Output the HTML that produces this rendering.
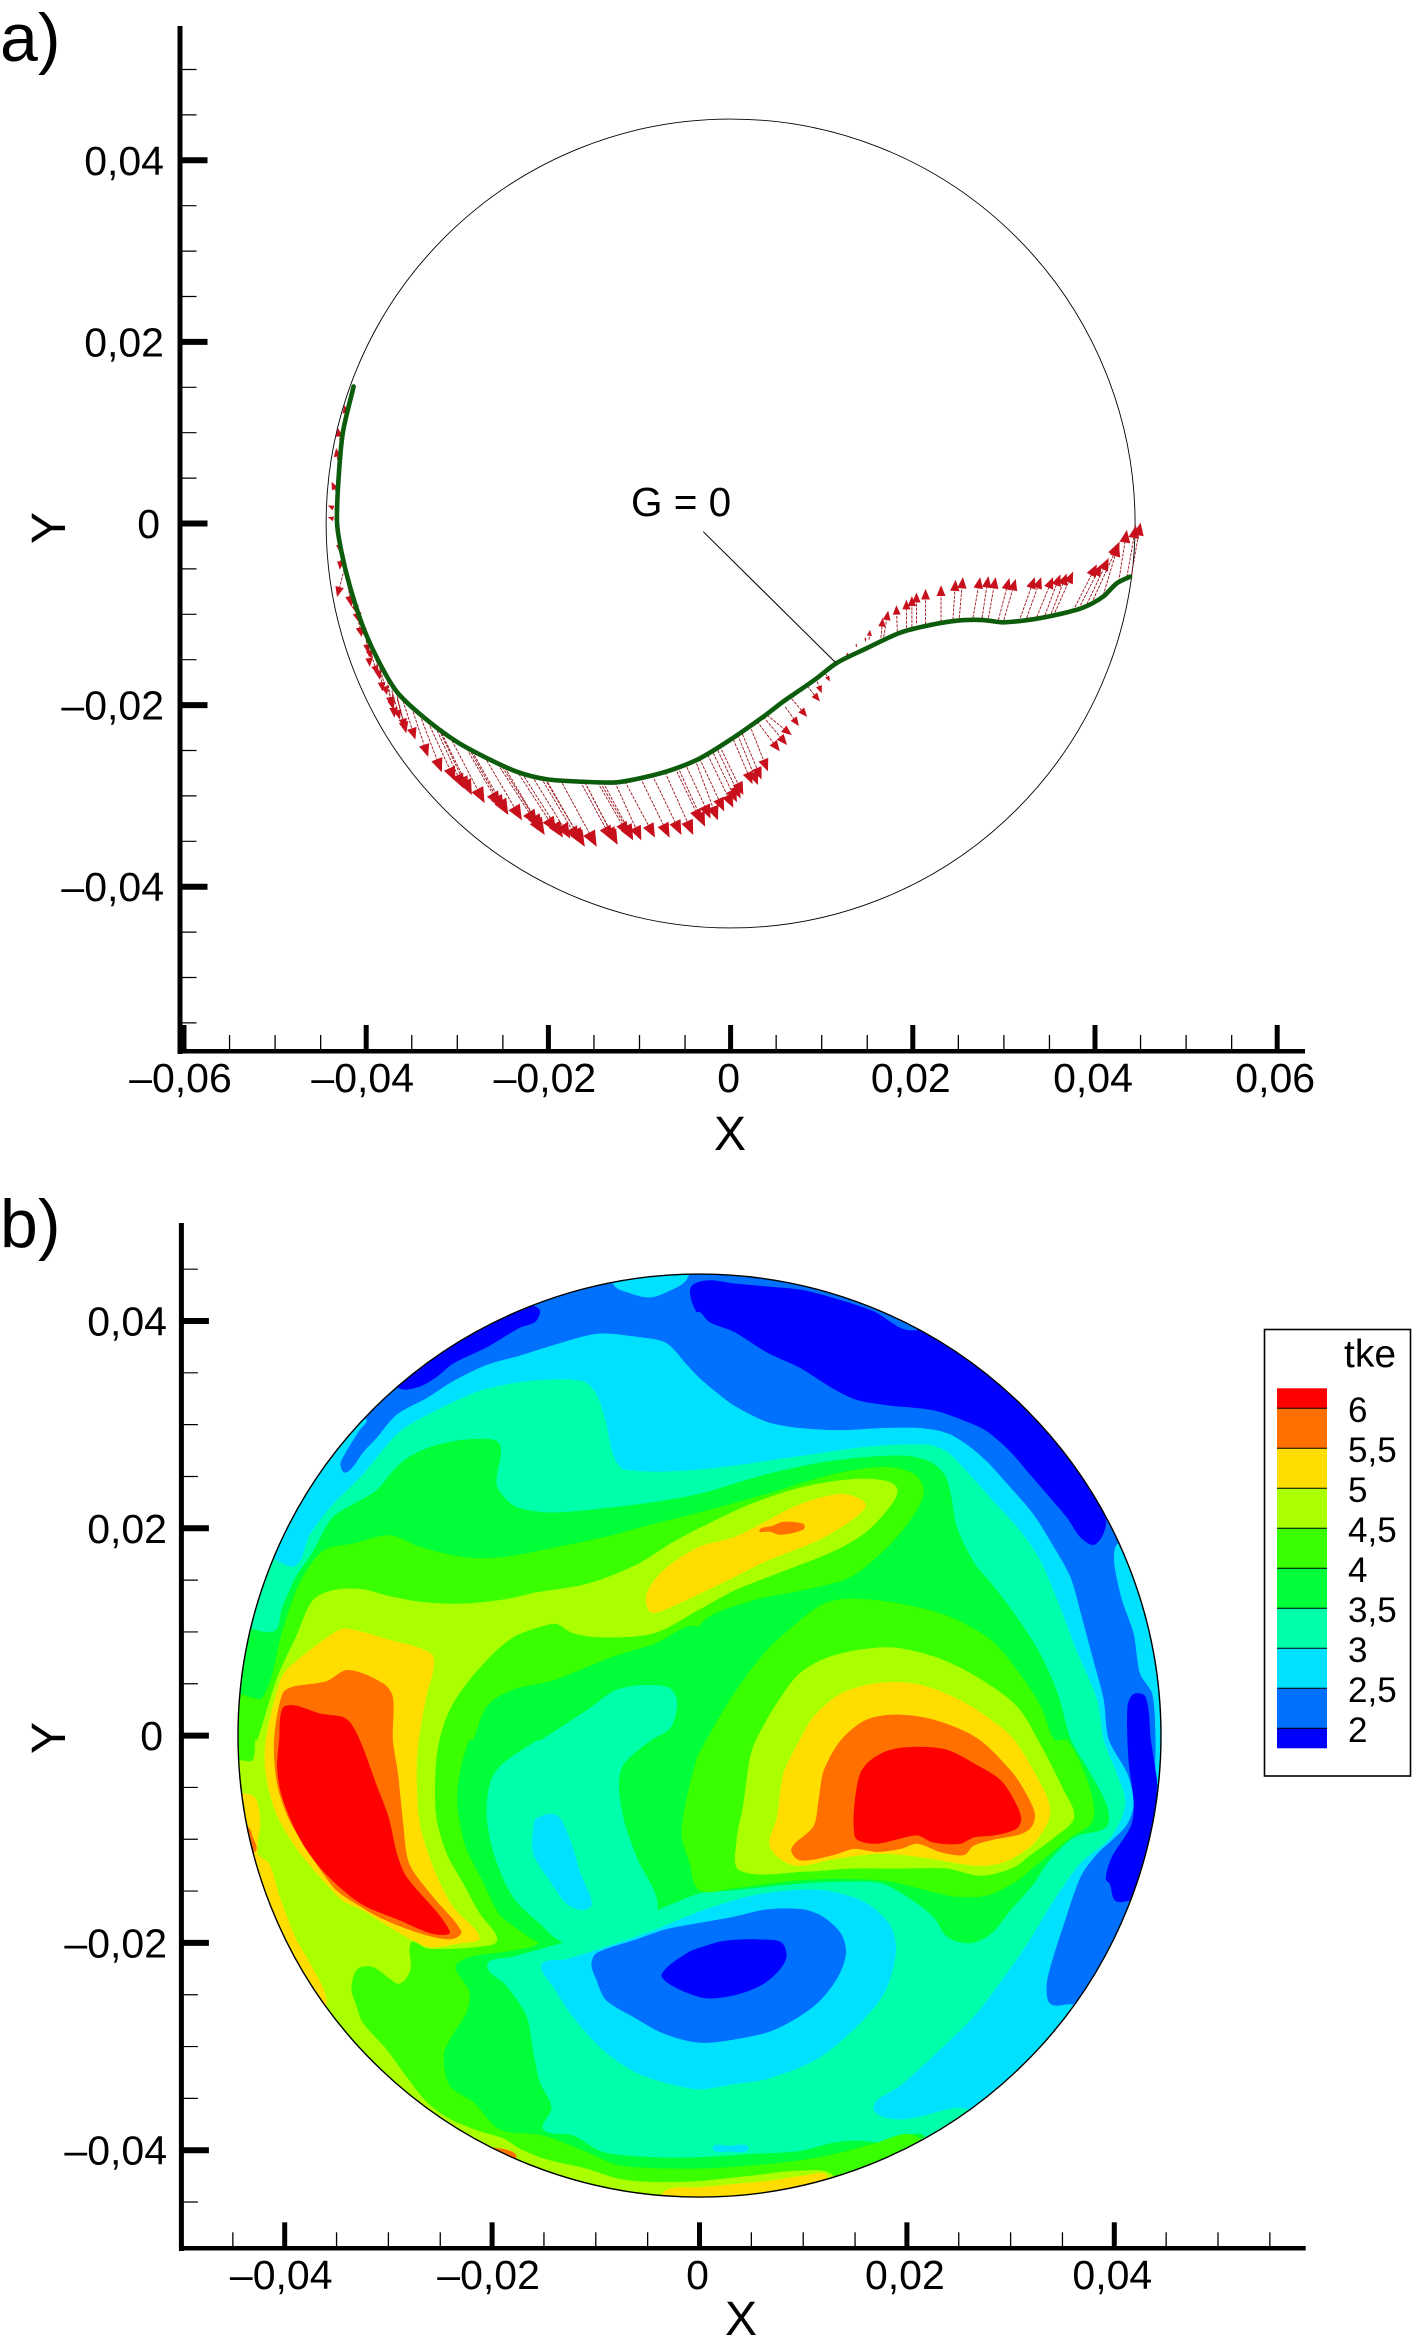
<!DOCTYPE html>
<html lang="en">
<head>
<meta charset="utf-8">
<title>Panels a and b: G = 0 curve with vectors, tke contours</title>
<style>
html,body{margin:0;padding:0;background:#fff;}
svg{display:block;}
text{font-family:"Liberation Sans",Arial,sans-serif;fill:#000;}
</style>
</head>
<body>
<svg id="chart" xmlns="http://www.w3.org/2000/svg" width="1423" height="2347" viewBox="0 0 1423 2347">
<defs><clipPath id="disk-clip"><circle id="disk-clip-circle" cx="699.5" cy="1735.6" r="461"/></clipPath></defs>
<rect x="0" y="0" width="1423" height="2347" fill="#fff"/>
<text x="0" y="61" font-size="68">a)</text>
<text x="0" y="1247" font-size="68">b)</text>
<text x="730" y="1150" font-size="48" text-anchor="middle">X</text>
<text transform="translate(65 528) rotate(-90)" font-size="48" text-anchor="middle">Y</text>
<text x="741" y="2335" font-size="48" text-anchor="middle">X</text>
<text transform="translate(65 1738) rotate(-90)" font-size="48" text-anchor="middle">Y</text>
<text x="631" y="516" font-size="40.5">G = 0</text>
<g id="panel-a"></g>
<g id="panel-b-fill" clip-path="url(#disk-clip)"></g>
<g id="panel-b"></g>
<g id="legend"></g>
</svg>
<script>
/* ---------- Panel a data (curve and vectors in units of 1e-3) ---------- */
const xTicksA = [-0.06,-0.04,-0.02,0,0.02,0.04,0.06];
const xTickLabelsA = ['–0,06','–0,04','–0,02','0','0,02','0,04','0,06'];
const yTicksA = [-0.04,-0.02,0,0.02,0.04];
const yTickLabelsA = ['–0,04','–0,02','0','0,02','0,04'];
const xMinorA = [-0.055,-0.05,-0.045,-0.035,-0.03,-0.025,-0.015,-0.01,-0.005,0.005,0.01,0.015,0.025,0.03,0.035,0.045,0.05,0.055];
const yMinorA = [-0.055,-0.05,-0.045,-0.035,-0.03,-0.025,-0.015,-0.01,-0.005,0.005,0.01,0.015,0.025,0.03,0.035,0.045,0.05];
const circleRadiusA = 44.4;
const leaderX = [-3.0,11.46];
const leaderY = [-0.9,-15.25];
const greenX = [-41.38,-42.55,-43.03,-43.2,-42.69,-41.78,-40.35,-38.71,-36.65,-33.76,-30.07,-26.77,-23.48,-20.19,-16.17,-12.5,-9.21,-6.29,-3.36,-0.07,3.59,5.75,7.62,9.45,11.65,14.94,18.6,21.53,24.82,27.7,29.9,33.19,36.16,38.68,40.88,42.38,43.84];
const greenY = [15.09,10.08,5.01,0.05,-3.25,-6.96,-11.37,-15.03,-18.52,-21.28,-24.03,-25.83,-27.33,-28.17,-28.44,-28.5,-27.89,-27.07,-25.86,-23.84,-21.28,-19.63,-18.34,-17.05,-15.36,-13.74,-12.03,-11.26,-10.7,-10.63,-10.88,-10.55,-9.97,-9.27,-8.06,-6.59,-5.86];
const tailX = [-42.1,-42.8,-43.0,-43.1,-43.2,-43.2,-43.1,-43.0,-42.7,-42.3,-42.3,-41.7,-41.1,-40.1,-39.8,-39.0,-38.5,-37.7,-37.2,-36.7,-36.1,-35.0,-34.1,-33.2,-31.9,-30.8,-28.6,-27.0,-25.3,-22.9,-20.4,-18.7,-16.0,-14.3,-12.7,-11.6,-9.9,-8.6,-7.2,-5.8,-3.9,-2.5,-1.2,0.8,2.1,2.9,3.6,4.0,6.0,6.7,8.4,9.5,10.4,12.7,13.8,14.8,15.2,16.5,16.8,18.3,19.3,19.9,20.4,21.4,23.1,24.4,25.1,26.6,27.6,28.3,29.4,30.0,31.8,32.5,33.6,34.5,35.2,35.6,37.8,38.4,39.1,39.8,40.9,42.6,43.5,44.0,-32.4,-32,-29.2,-28.7,-25.8,-25,-23.5,-21.8,-20.8,-20.3,-16.5,-16,-14.6,-14,-6.1,-5,-3.4,-1.9,-1.4,0.3,1.3,-41.5,-40.7,-40,-39.4,-38.3,-37.7,-37.1,-36.6];
const tailY = [11.4,8.6,6.1,3.1,1.5,0.4,0.2,-1.8,-3.1,-4.6,-5.1,-7.3,-9.5,-11.9,-13.4,-14.5,-15.8,-16.9,-17.9,-18.6,-19.1,-20.3,-21.1,-21.9,-22.7,-23.5,-24.7,-25.7,-26.4,-27.5,-28.1,-28.2,-28.5,-28.5,-28.5,-28.4,-28.0,-27.7,-27.4,-26.8,-26.0,-25.5,-24.5,-23.3,-22.2,-21.8,-21.3,-21.1,-20.2,-19.3,-17.9,-17.4,-16.5,-14.7,-13.6,-13.0,-12.8,-12.6,-12.5,-11.9,-11.5,-11.4,-11.0,-11.1,-10.8,-10.6,-10.4,-10.4,-10.4,-10.4,-10.6,-10.6,-10.4,-10.4,-10.3,-10.1,-9.9,-9.8,-9.2,-9.0,-8.9,-8.4,-7.9,-6.4,-5.9,-5.7,-22.4,-22.7,-24.4,-24.8,-26.1,-26.5,-27.2,-27.8,-28,-28.1,-28.4,-28.5,-28.5,-28.5,-26.9,-26.4,-25.9,-25.3,-25,-23.8,-23.2,-7.8,-10.4,-12.9,-14.5,-16.6,-17.8,-18.7,-19.3];
const tipX = [-42.4,-43.1,-43.3,-43.8,-44.2,-44.2,-43.2,-42.9,-42.9,-43.2,-41.6,-40.7,-40.5,-39.8,-39.6,-38.5,-38.2,-37.2,-36.9,-35.6,-34.6,-33.2,-31.7,-30.2,-28.4,-27.0,-24.4,-22.9,-20.4,-18.4,-16.0,-14.7,-12.4,-10.7,-9.8,-8.3,-6.7,-5.4,-4.1,-2.8,-1.4,0.3,1.4,3.0,4.1,5.4,6.2,6.7,7.5,8.4,9.8,10.0,10.9,12.9,13.8,14.8,15.3,16.7,17.3,18.2,19.3,19.9,20.4,21.4,23.1,24.7,25.5,27.4,28.3,29.1,30.6,31.3,33.4,34.1,35.4,36.2,36.9,37.6,40.2,40.7,41.5,42.7,42.6,43.5,44.5,45.0,-29.3,-28.8,-25.3,-24.9,-21.2,-20.7,-19.1,-17.6,-16.6,-16.2,-13,-12.6,-11.2,-10.7,-3.2,-2.2,-0.7,0.7,1.1,2.4,3.4,-41,-40.1,-39.4,-38.8,-37.7,-37,-36.3,-35.7];
const tipY = [13.05,10.5,8.3,4.6,2.0,0.7,-0.7,-3.2,-5.1,-8.1,-9.2,-11.0,-12.5,-14.3,-15.8,-17.2,-18.5,-20.2,-21.4,-23.1,-23.8,-25.7,-27.4,-28.4,-29.9,-30.8,-32.1,-32.7,-34.3,-34.6,-35.6,-35.6,-35.4,-34.9,-34.9,-34.6,-34.6,-34.3,-34.3,-33.4,-32.7,-31.3,-29.9,-28.8,-27.3,-25.1,-24.4,-23.3,-22.3,-21.3,-19.6,-18.7,-17.4,-14.2,-13.2,-12.5,-11.7,-10.4,-9.6,-9.0,-8.4,-8.0,-7.6,-7.2,-6.8,-6.2,-5.9,-5.9,-5.8,-5.9,-6.0,-6.1,-5.9,-5.9,-5.9,-5.6,-5.5,-5.3,-4.5,-4.5,-3.8,-2.0,-2.2,-0.7,-0.2,0.1,-29.2,-29.5,-31.2,-31.6,-33.3,-33.8,-34,-34.7,-35.1,-35.3,-34.9,-35.1,-34.4,-34.7,-33,-32.5,-31.7,-30.7,-30.3,-28.7,-28.2,-10,-12.5,-14.9,-16.6,-18.9,-20.5,-21.6,-22.6];

/* ---------- Panel b data ---------- */
const xTicksB = [-0.04,-0.02,0,0.02,0.04];
const xTickLabelsB = ['–0,04','–0,02','0','0,02','0,04'];
const yTicksB = [-0.04,-0.02,0,0.02,0.04];
const yTickLabelsB = ['–0,04','–0,02','0','0,02','0,04'];
const xMinorB = [-0.045,-0.035,-0.03,-0.025,-0.015,-0.01,-0.005,0.005,0.01,0.015,0.025,0.03,0.035,0.045,0.05,0.055];
const yMinorB = [-0.045,-0.035,-0.03,-0.025,-0.015,-0.01,-0.005,0.005,0.01,0.015,0.025,0.03,0.035,0.045];
const legendLevels = ['6','5,5','5','4,5','4','3,5','3','2,5','2'];
const legendColors = ['#ff0000','#ff7000','#ffdd00','#aaff00','#39ff00','#00ff39','#00ffaa','#00e1ff','#0070ff','#0000ff'];
const c2='#0000ff',c25='#0070ff',c3='#00e1ff',c35='#00ffaa',c4='#00ff39',c45='#39ff00',c5='#aaff00',c55='#ffdd00',c6='#ff7000',c7='#ff0000';

/* contour bands: [x,y, x,y, ...] in units of 1e-3 */
const band3Outer = [-41.5,17.2,-39,16.4,-37.6,19.4,-35.4,22.3,-32.5,25.2,-29.6,28.7,-28,30,-23.8,32.2,-20.5,33.5,-15.7,34.3,-11.2,34.2,-9.9,32.9,-9,30.3,-8.3,27.1,-7.2,25.7,0.05,25.7,9.7,27,16.1,27.9,22,28.1,23.9,27.4,25.8,25.5,28.4,22.6,31,19.7,32.9,16.9,34.8,12.4,36.4,8.2,38.4,3.4,39,-0.4,40.3,-3.7,41.1,-6.6,39.7,-9.8,36.8,-12.3,34.2,-15.9,31.9,-19.7,29.7,-22.9,26.5,-27.1,22.6,-30.9,19.4,-33.8,16.8,-35.9,19.4,-37,24.5,-35.9,25.8,-36,27.4,-36.7,35,-40,60,-20,60,60,-60,60,-60,17.2];
const band25Outer = [-34.2,25.4,-33.4,26,-32.5,27.3,-31.2,28.7,-29.2,31,-26.3,32.6,-23.8,34.2,-20.5,35.8,-17.3,36.7,-14.1,37.7,-9.9,38.8,-6,38.5,-3.2,37.9,-1.2,35.8,0.05,34.5,1.7,33.1,3.3,31.9,6.5,30.3,9.7,29.7,13.6,29.5,17.8,29.7,21.3,29.7,23.9,29.2,25.8,28.1,27.7,26.5,29.7,24.3,32.2,21.4,34.2,18.2,35.8,15.3,36.8,11.8,38,7.3,39,3.5,39.5,-0.4,41.3,-3.7,41.9,-6.6,41.1,-8.8,38.4,-11.4,36.8,-13.6,35.2,-18.1,33.9,-22.2,33.5,-24.2,33.9,-25.9,36,-25.9,50,-30,65,0,60,60,-30,60,-40,40,-32.1,30.5,-32.8,29.4,-34.2,27.1,-34.6,26.2];
const band2Top = [-0.9,42.7,-0.3,40.9,0.05,40.9,1,39.9,3.3,39,6.5,37,9.7,35.5,12.9,33.5,15.2,32.4,18.1,31.9,22.6,31.4,25.8,30.3,27.7,29.4,30,27.4,31.9,25.2,33.8,23,35.5,21,36.8,19.1,38.2,18.5,39.2,20.9,37.7,23.6,35.5,30,30,36,25,39.5,20,39.1,16.8,40.9,12.9,42.2,9.7,43,6.5,43.3,3.3,43.6,1,43.9,-0.6,43.5];
const band2Streak = [-28.9,33.5,-27,33.7,-25.4,34.6,-23.8,35.9,-20.5,37.5,-17.3,39.4,-15.9,39.9,-15.4,40.9,-15.9,41.4,-20,42,-30,35];
const band3TopPatch = [-8.3,43.6,-6.7,42.7,-4.8,42.3,-3.2,42.8,-1.2,44.1,-1,47,-8,47];
const band3RimSliver = [40.1,18.1,40.6,13.7,41.9,9.8,42.5,6,43.7,4,44,-0.4,44,-3.7,44.3,-4.7,48,-4,47,10,42,19];
const band2RightBar = [41.3,2.8,41.9,4,43,3.7,43.5,-0.4,44,-3.7,44.1,-4.5,43.8,-8.5,41.9,-15.5,41.4,-15.9,40.1,-15.9,39.6,-14.3,39.2,-13.8,39.8,-11.7,41.6,-8.8,41.9,-6.6,41.4,-2.4];
const band4Outer = [-48,10.8,-41.1,10,-40.2,12.4,-38.9,15.3,-37.4,17.5,-35.4,21,-33.4,22.3,-31.2,23.6,-29.2,25.9,-27.6,27.1,-25,28.1,-21.5,28.6,-19.3,28.1,-19.6,24.3,-18.6,22.7,-17.3,21.9,-14.1,21.5,-9.3,21.9,-4.4,22.5,0,23.3,6.5,25.2,12.9,26.5,19.4,27,22,26.5,23.6,25.2,24.2,23.3,24.8,20.1,26.5,16.6,28.1,14.7,30.3,11.8,32.6,8.3,34.5,4.1,35.8,-0.4,37.7,-3.7,39.3,-6.9,39.2,-8.8,36.1,-9.8,33.5,-12.3,32.2,-14.3,30,-16.8,28.1,-19.1,26.1,-20,23.9,-19.4,22.6,-17.5,20,-15.5,17.4,-14.2,12.9,-14.1,9.1,-14.3,3.3,-14.9,0,-15.2,-4.1,-16.8,-13.1,-19.9,-18,-21.3,-20.5,-22.1,-18.6,-24.2,-16.7,-27.1,-16,-30.9,-15.4,-33.5,-14.3,-35.9,-15.1,-38,-12.2,-38.6,-9.3,-40.2,-4.4,-40.7,0,-40.7,4.9,-40.4,9.7,-40.1,12.9,-39.3,15.2,-39.1,18.1,-39.3,21.6,-38.6,25,-45,0,-50,-40,-40,-50,0];
const band45Main = [-48,4,-44.4,4,-42.1,3.7,-40.2,10.1,-38.6,14.6,-36.3,17.8,-33.4,18.5,-29.9,19.3,-27,18.2,-22.8,17.2,-18.9,17.2,-14.1,18.1,-9.3,19.1,-4.4,20.4,0,21.5,6.5,23.3,12.9,25.2,17.8,25.9,20.7,25.2,21.6,23.6,20.7,21.4,18.1,18.2,14.5,15.3,9.7,14,4.9,13,0,10.6,-15.5,-19.9,-18,-20.7,-23.4,-22,-22.2,-24.8,-22.5,-26.7,-24.1,-29.3,-24.7,-30.9,-24.1,-33.8,-21.8,-35.4,-19.3,-38,-15.1,-38.6,-10.9,-40.2,-7.7,-41.5,0,-41.8,4.9,-41.5,9.7,-41,13.9,-40.2,16.8,-39.4,20.7,-38.6,26,-44,0,-52,-45,-45,-52,0];
const band4Centre = [-21.8,-0.4,-20.5,2.8,-18,4.4,-14.1,5.3,-8.3,7.6,-4.4,8.8,0,10.4,2,5,0.7,-0.4,-0.3,-2.4,-1.7,-9.2,-0.9,-12.4,0,-14,-4.1,-16.8,-13.1,-19.9,-15.5,-19.9,-17.3,-18.8,-19.3,-17.2,-20.9,-14,-22.5,-10.8,-23.3,-6.9,-23.1,-3.7,-22.2,-0.5];
const band45Ring = [0.7,-0.4,3.3,4,6.5,8.2,9.7,11.1,12,12.7,14.5,13.2,19.4,12.7,24.2,11.4,28.1,9.2,30.6,6.3,32.9,2.8,34.2,-0.4,35.5,-0.5,37.5,-4.7,37.9,-8.2,35.8,-9.8,32.2,-12.7,30.6,-14,27.7,-15.4,24.5,-15.5,21.9,-14.9,18,-14,12.9,-13.8,9,-14,3.3,-14.7,0,-14.9,-0.9,-12.4,-1.7,-9.2,-0.3,-2.4];
const band35Blob = [-15.4,-0.5,-10.9,2.4,-7.7,4.5,-3.2,4.7,-2.2,3.4,-2.8,0.8,-4.8,-0.5,-7.3,-2.7,-7.8,-4.6,-7.3,-8.2,-6.1,-11.7,-4.1,-16.8,-7.7,-19.7,-13.1,-19.9,-15.4,-18.1,-18,-15.5,-19.9,-11.1,-20.5,-6.9,-19.6,-3.4,-15.7,-0.5];
const band3Blob = [-15.7,-8,-13.8,-7.7,-12.5,-10.1,-11.5,-13.3,-10.4,-16.2,-11.2,-16.8,-12.8,-16.2,-14.4,-14,-16,-11.4,-16,-8.8];
const band3Lake = [-15.2,-22.1,-14.1,-24.2,-12.2,-27.1,-9.3,-30.3,-6.1,-32.5,-2.8,-33.6,0,-34.1,3.3,-33.6,6.5,-33.1,11.3,-31.2,15.2,-28,17.8,-24.8,18.9,-21,18.4,-18.4,16.1,-16.2,12.9,-15.1,9.7,-14.9,4.9,-15.5,0,-17,-4.4,-18.8,-9.3,-20.5,-12.8,-21.6];
const band25Lake = [-10.4,-22.1,-9.9,-21,-6.1,-19.7,-3.2,-18.7,0,-18.1,3.3,-17.5,6.5,-16.8,10,-16.8,11.9,-17.5,13.6,-19.1,14.1,-21,13.2,-23.5,11,-26.1,7.1,-28.4,3.3,-29.3,0,-29.6,-3.5,-28.7,-6.4,-27.1,-9,-25.5,-9.9,-23.6];
const band2Lake = [-3.6,-23,-1.2,-21,0,-20.5,2,-19.9,3.9,-19.7,5.8,-19.7,7.9,-20,8.3,-21.6,6.5,-23.7,4.2,-24.8,1.7,-25.3,0,-25.2,-2.8,-24];
const band3Speck = [1.3,-39.8,2.9,-39.6,4.7,-39.8,2.9,-40.1];
const band5Main = [-50,-4,-44.4,-2.4,-43.1,-2.4,-42.8,-0.5,-42.6,-0.4,-40.7,5.6,-38.9,9.5,-37.3,13,-35.4,14,-32.5,14.1,-30.2,13.5,-27,12.9,-23.1,12.7,-18.9,13.1,-15.7,13.8,-10.9,14.6,-6,16.5,-2.8,18.5,0,20,4.9,22.3,9.7,23.9,14.5,24.7,17.8,24.6,19,23.9,18.7,22.6,16.1,19.7,12.9,17.8,8.1,15.9,3.3,14,0,12.2,-4.4,9.9,-9.3,9.5,-12.2,9.9,-13.8,10.8,-15.4,10.5,-18,9.5,-20.9,6.9,-23.8,3.1,-25.1,-0.4,-25.5,-3.7,-25.4,-7.9,-24.4,-11.4,-22.8,-14.3,-21.2,-17.2,-19.7,-19.1,-19.6,-19.9,-20.2,-20.2,-23.1,-20.5,-26.3,-20.5,-27.8,-19.9,-27.9,-22.6,-28.9,-23.9,-29.9,-23.4,-31.5,-22.3,-33,-22.5,-33.6,-24.4,-33.1,-26.1,-32.5,-27.7,-30.2,-30.3,-28.3,-32.9,-26.3,-35.4,-24.1,-37,-21.2,-38.2,-18.9,-38.9,-17.3,-39.9,-14.8,-40.9,-10.9,-41.8,-7.7,-42.8,-4.4,-43.1,0,-43,4.9,-42.5,9.7,-42,12.9,-42.5,14,-48,-30,-48,-50,-20];
const band5Right = [5.5,-0.4,7.4,3,9.7,6,12.9,7.7,18.1,8.5,22.6,7.6,26.8,5.6,30.6,2.8,32.6,-0.4,35.1,-5.3,36.1,-7.9,34.2,-9.8,31.9,-11.5,30.3,-12.7,27.1,-13.5,23.9,-12.8,19.4,-12.8,14.5,-12.8,10.3,-13.1,3.9,-13,3.6,-10.1,4.2,-6.9,4.9,-2.1];
const band55Top = [0,18.2,3.3,19.1,6.5,20.7,9.7,22.3,13.6,23.3,15.5,22.8,16,22.1,14.5,20.7,11.3,18.8,6.5,16.9,3.3,15.3,0,13.7,-3.8,12,-4.8,12,-5.1,13.6,-3.5,15.9];
const band55Left = [-41.8,-0.4,-40.3,5.6,-39.2,6.9,-35.4,9.8,-34.1,10.3,-30.2,9.3,-25.9,7.9,-25.7,6.3,-26.3,4.1,-27.1,-0.4,-27.3,-3.7,-27,-8.5,-25.7,-12.7,-23.8,-16.5,-21.5,-18.9,-21.3,-19.7,-23.1,-20,-26,-20.4,-28.3,-19.4,-30.9,-17.8,-32.5,-16.8,-34.4,-15.9,-36.6,-13.6,-38.9,-10.8,-40.8,-7.5,-41.8,-3.7];
const band55Right = [9.7,-0.4,11,1.8,13.6,4,16.8,5,20.7,5,24.5,3.7,27.7,1.8,30.3,-0.4,33.2,-5.3,33.8,-7.2,33.5,-8.5,31.9,-10.7,29,-12.3,26.4,-12.5,22.6,-11.9,19.7,-11.5,16.8,-11.4,12.9,-11.9,9.1,-12.5,6.8,-10.7,7.5,-7.9,8.1,-3.7];
const band55Rim = [-43.9,-5.6,-42.8,-6.1,-42.4,-8.5,-42.6,-11.4,-41.5,-12.4,-40.5,-15.6,-38.9,-19.7,-37.8,-21.6,-36,-25.5,-37,-29,-47,-15,-48,-6];
const band55Bottom = [-3.5,-44.1,0,-43.6,6.5,-43,10,-42.5,12.3,-42.5,12,-47,-3,-47];
const band6Right = [13.7,-0.4,16.1,1.5,19,2,22.6,1.5,26.8,-0.3,30,-3.4,31.3,-5.3,32.3,-7.5,32,-8.8,30.9,-9.5,28.4,-10,26.4,-10.6,25.5,-11.5,23.2,-11.2,21,-10.4,19.4,-10.9,17.1,-11.2,14.9,-10.9,12.9,-11.5,9.7,-12,8.9,-10.9,11,-8.8,11.5,-6.3,12,-3.4];
const band6Top = [5.8,19.8,7,20.2,8.1,20.6,10,20.4,10,19.9,7.8,19.4,6.8,19.7];
const band6Left = [-41,-0.4,-40.2,4,-39.2,4.7,-36,5.2,-33.9,6.3,-30.5,5,-29.6,3.7,-29.6,-0.4,-29.1,-3.7,-28.6,-8.5,-28,-12.4,-25.7,-15.6,-23,-18.9,-23.8,-19.6,-25.7,-19.4,-28.3,-18.6,-30.9,-17.5,-32.8,-16.4,-35,-14.9,-36.9,-12.4,-39.5,-8.2,-40.7,-4.7];
const band6RimLeft = [-43.6,-8.8,-43.1,-9.8,-42.8,-11.1,-44,-11,-45,-9];
const band6RimBottom = [-19.6,-39.8,-18,-40.2,-17.7,-40.7,-19,-41,-21,-40];
const band7Right = [15.5,-3.7,16.5,-2.4,18.4,-1.4,21,-1.1,23.9,-1.4,26.8,-2.9,29,-4.3,30.3,-6.2,31,-8,30.5,-9,28.4,-9.6,26.4,-9.8,25.2,-10.4,22.6,-10.3,21,-9.6,19.4,-9.9,17.1,-10.4,15.2,-10,14.9,-8.8,15,-6.3];
const band7Left = [-40.5,-0.4,-40.2,2.6,-39.1,2.9,-36.6,2.1,-34.1,1.6,-32.8,-0.4,-31.2,-4.7,-30,-7.9,-29.2,-11.4,-28.3,-13.6,-24.1,-18.9,-25.7,-19.1,-28.9,-17.8,-32.1,-16.5,-34,-15.2,-36.6,-12.7,-38.6,-9.8,-40.2,-6,-40.7,-3.1];

const NS = 'http://www.w3.org/2000/svg';
const panelA = document.getElementById('panel-a');
const panelFill = document.getElementById('panel-b-fill');
const panelB = document.getElementById('panel-b');
const legendG = document.getElementById('legend');

/* axis functions */
const ax = v => 730.6 + 9110 * v;
const ay = v => 523.5 - 9080 * v;
const bx = v => 699.5 + 10370 * v;
const by = v => 1735.6 - 10365 * v;
const milli = 0.001;

function mk(tag, attrs, parent, content) {
  const el = document.createElementNS(NS, tag);
  for (const k in attrs) el.setAttribute(k, attrs[k]);
  if (content !== undefined) el.textContent = content;
  parent.appendChild(el);
  return el;
}
/* smooth curve through points; tangents limited by segment length so long edges do not overshoot */
function smoothPath(pts, closed) {
  const n = pts.length, k = 0.3;
  const at = i => closed ? pts[(i + n) % n] : pts[Math.max(0, Math.min(n - 1, i))];
  let d = 'M' + pts[0][0].toFixed(2) + ' ' + pts[0][1].toFixed(2);
  const last = closed ? n : n - 1;
  for (let i = 0; i < last; i++) {
    const p0 = at(i - 1), p1 = at(i), p2 = at(i + 1), p3 = at(i + 2);
    const seg = Math.hypot(p2[0] - p1[0], p2[1] - p1[1]);
    const l1 = Math.hypot(p2[0] - p0[0], p2[1] - p0[1]) || 1;
    const l2 = Math.hypot(p3[0] - p1[0], p3[1] - p1[1]) || 1;
    const c1x = p1[0] + (p2[0] - p0[0]) / l1 * seg * k, c1y = p1[1] + (p2[1] - p0[1]) / l1 * seg * k;
    const c2x = p2[0] - (p3[0] - p1[0]) / l2 * seg * k, c2y = p2[1] - (p3[1] - p1[1]) / l2 * seg * k;
    d += 'C' + c1x.toFixed(2) + ' ' + c1y.toFixed(2) + ' ' + c2x.toFixed(2) + ' ' + c2y.toFixed(2) + ' ' + p2[0].toFixed(2) + ' ' + p2[1].toFixed(2);
  }
  return d + (closed ? 'Z' : '');
}
function drawAxisTicks(parent, prefix, sx, sy, xMaj, xLab, xMin, yMaj, yLab, yMin, axisX, axisY, lx, lyBase) {
  xMaj.forEach((v, i) => {
    const t = mk('line', {x1: sx(v), x2: sx(v), y1: axisY - 26, y2: axisY, stroke: '#000', 'stroke-width': 5}, parent);
    
    
    const lab = mk('text', {x: sx(v) + (xLab[i][0] === '–' ? -3.5 : -2), y: lyBase, 'font-size': 41, 'text-anchor': 'middle'}, parent, xLab[i]);
    
    
  });
  xMin.forEach(v => {
    const t = mk('line', {x1: sx(v), x2: sx(v), y1: axisY - 16, y2: axisY, stroke: '#000', 'stroke-width': 1.3}, parent);
    
    
  });
  yMaj.forEach((v, i) => {
    const t = mk('line', {x1: axisX, x2: axisX + 27.5, y1: sy(v), y2: sy(v), stroke: '#000', 'stroke-width': 6}, parent);
    
    
    const lab = mk('text', {x: yLab[i] === '0' ? lx - 4 : lx, y: sy(v) + 14.5, 'font-size': 41, 'text-anchor': 'end'}, parent, yLab[i]);
    
    
  });
  yMin.forEach(v => {
    const t = mk('line', {x1: axisX, x2: axisX + 16.5, y1: sy(v), y2: sy(v), stroke: '#000', 'stroke-width': 1.2}, parent);
    
    
  });
}

/* ---- panel a ---- */
const circA = mk('circle', {cx: ax(0), cy: ay(0), r: (ax(circleRadiusA * milli) - ax(0)), fill: 'none', stroke: '#000', 'stroke-width': 0.9}, panelA);



tailX.forEach((_, i) => {
  const x1 = ax(tailX[i] * milli), y1 = ay(tailY[i] * milli);
  const x2 = ax(tipX[i] * milli), y2 = ay(tipY[i] * milli);
  const dx = x2 - x1, dy = y2 - y1, L = Math.hypot(dx, dy) || 1;
  const ux = dx / L, uy = dy / L;
  const hl = Math.min(L * 0.6, 6 + 0.13 * L), hw = hl * 0.42;
  const bxx = x2 - ux * hl, byy = y2 - uy * hl;
  const shaft = mk('line', {x1: x1, y1: y1, x2: bxx, y2: byy, stroke: '#9c141c', 'stroke-width': 0.9, 'stroke-dasharray': '3 1.2'}, panelA);
  
  
  const head = mk('polygon', {points: x2 + ',' + y2 + ' ' + (bxx - uy * hw) + ',' + (byy + ux * hw) + ' ' + (bxx + uy * hw) + ',' + (byy - ux * hw), fill: '#c8101c'}, panelA);
  
  
});

const greenPts = greenX.map((g, i) => [ax(g * milli), ay(greenY[i] * milli)]);
const greenLine = mk('path', {d: smoothPath(greenPts, false), fill: 'none', stroke: '#0c5c0c', 'stroke-width': 4.6, 'stroke-linejoin': 'round', 'stroke-linecap': 'round'}, panelA);



const leader = mk('line', {x1: ax(leaderX[0] * milli), y1: ay(leaderY[0] * milli), x2: ax(leaderX[1] * milli), y2: ay(leaderY[1] * milli), stroke: '#000', 'stroke-width': 1}, panelA);



drawAxisTicks(panelA, 'panel-a', ax, ay, xTicksA, xTickLabelsA, xMinorA, yTicksA, yTickLabelsA, yMinorA, 180, 1051, 164, 1092);
const aYAxis = mk('line', {x1: 180, x2: 180, y1: 26, y2: 1054, stroke: '#000', 'stroke-width': 5}, panelA);


const aXAxis = mk('line', {x1: 177.5, x2: 1305, y1: 1051.3, y2: 1051.3, stroke: '#000', 'stroke-width': 4.5}, panelA);



/* ---- panel b ---- */
const layers = [
  [band3Outer, c3], [band25Outer, c25], [band2Top, c2], [band2Streak, c2], [band3TopPatch, c3],
  [band3RimSliver, c3], [band2RightBar, c2], [band4Outer, c4], [band45Main, c45], [band4Centre, c4],
  [band45Ring, c45], [band35Blob, c35], [band3Blob, c3], [band3Lake, c3], [band25Lake, c25],
  [band2Lake, c2], [band3Speck, c3], [band5Main, c5], [band5Right, c5], [band55Top, c55], [band55Left, c55],
  [band55Right, c55], [band55Rim, c55], [band55Bottom, c55], [band6Right, c6], [band6Top, c6],
  [band6Left, c6], [band6RimLeft, c6], [band6RimBottom, c6], [band7Right, c7], [band7Left, c7]
];
const base = mk('circle', {cx: bx(0), cy: by(0), r: 462, fill: c35}, panelFill);


layers.forEach(layer => {
  const arr = layer[0];
  const pts = [];
  for (let i = 0; i < arr.length; i += 2) pts.push([bx(arr[i] * milli), by(arr[i + 1] * milli)]);
  const p = mk('path', {d: smoothPath(pts, true), fill: layer[1], stroke: layer[1], 'stroke-width': 0.6, 'stroke-linejoin': 'round'}, panelFill);
  
  
});
const circB = mk('circle', {cx: bx(0), cy: by(0), r: 461.5, fill: 'none', stroke: '#000', 'stroke-width': 1.4}, panelB);



drawAxisTicks(panelB, 'panel-b', bx, by, xTicksB, xTickLabelsB, xMinorB, yTicksB, yTickLabelsB, yMinorB, 181.4, 2248.3, 167, 2289);
const bYAxis = mk('line', {x1: 181.4, x2: 181.4, y1: 1223, y2: 2251, stroke: '#000', 'stroke-width': 5}, panelB);


const bXAxis = mk('line', {x1: 179, x2: 1305.7, y1: 2248.3, y2: 2248.3, stroke: '#000', 'stroke-width': 4.5}, panelB);



/* ---- legend ---- */
const legendBox = mk('rect', {x: 1264.5, y: 1329.5, width: 146, height: 446.5, fill: '#fff', stroke: '#000', 'stroke-width': 1.6}, legendG);


const legendTitle = mk('text', {x: 1344, y: 1367, 'font-size': 39}, legendG, 'tke');


legendColors.forEach((c, i) => {
  const top = i === 0 ? 1388.3 : 1408.3 + 40 * (i - 1);
  const h = (i === 0 || i === legendColors.length - 1) ? 20 : 40;
  const s = mk('rect', {x: 1277, y: top, width: 50, height: h, fill: c}, legendG);
  
  
});
legendLevels.forEach((l, i) => {
  const yy = 1408.3 + 40 * i;
  const sep = mk('line', {x1: 1277, x2: 1327, y1: yy, y2: yy, stroke: '#000', 'stroke-width': 1}, legendG);
  
  
  const t = mk('text', {x: 1348, y: yy + 13.5, 'font-size': 35}, legendG, l);
  
  
});
</script>
</body>
</html>
